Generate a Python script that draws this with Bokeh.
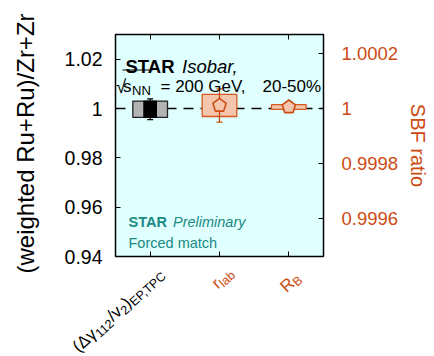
import math
from bokeh.plotting import figure
from bokeh.layouts import row, column
from bokeh.models import Range1d, LinearAxis, FixedTicker, Span, Label
from bokeh.core.properties import value
from bokeh.embed import file_html
from bokeh.resources import INLINE

# ---------------- data ----------------
cat_pos = [0.5, 1.5, 2.5]
x_tick_pieces = [
    [("(Δγ", False), ("112", True), ("/v", False), ("2", True), (")", False), ("EP,TPC", True)],
    [("r", False), ("lab", True)],
    [("R", False), ("B", True)],
]
# left axis: (Δγ112/v2) weighted ratio
dg_x = [0.5]
dg_value = [0.9997]
dg_stat = [0.0042]
dg_sys = [0.0033]
# right axis: SBF ratio (r_lab, R_B)
sbf_x = [1.5, 2.5]
sbf_value = [1.000011, 1.0000055]
sbf_stat = [6.0e-5, 1.5e-5]
sbf_sys = [4.0e-5, 8.5e-6]

left_ticks = [0.94, 0.96, 0.98, 1.0, 1.02]
left_tick_labels = ["0.94", "0.96", "0.98", "1", "1.02"]
right_ticks = [0.9996, 0.9998, 1.0, 1.0002]
right_tick_labels = ["0.9996", "0.9998", "1", "1.0002"]
y_left = (0.94, 1.03)
y_right = (0.999464, 1.000268)
y_title = "(weighted Ru+Ru)/Zr+Zr"
y2_title = "SBF ratio"

# ---------------- style / layout ----------------
FONT = "Liberation Sans"
ORANGE = "#cc4b12"
OR_FILL = "#f4c5ad"
OR_LINE = "#d65a20"
GRAY = "#b3b3b3"
TEAL = "#1b8a84"
BG = "#e0ffff"

PAGE_W, PAGE_H = 434, 356
LW = 40                      # left strip (y title)
W = PAGE_W - LW              # main + bottom strip width
H1 = 268                     # main figure height
H2 = PAGE_H - H1             # bottom strip (x labels)
FW, FH = 208, 222
F_LEFT, F_TOP = 115, 34
BL, BT = F_LEFT - LW, F_TOP
BR, BB = W - BL - FW, H1 - BT - FH
F_BOT = F_TOP + FH
PX_X = FW / 3.0
PX_YL = FH / (y_left[1] - y_left[0])
PX_YR = FH / (y_right[1] - y_right[0])


def dxp(px):
    return (px - F_LEFT) / PX_X


def dyp(py):
    return y_left[0] + (F_BOT - py) / PX_YL


p = figure(width=W, height=H1, min_border_left=BL, min_border_right=BR,
           min_border_top=BT, min_border_bottom=BB,
           x_range=Range1d(0, 3), y_range=Range1d(*y_left),
           output_backend="svg", toolbar_location=None)
p.frame_align = False
p.extra_y_ranges = {"sbf": Range1d(*y_right)}
p.background_fill_color = BG
p.border_fill_color = "white"
p.outline_line_color = "black"
p.outline_line_width = 1.5
p.xgrid.visible = False
p.ygrid.visible = False


def style_axis(ax):
    ax.axis_line_color = None
    ax.major_tick_in = 5
    ax.major_tick_out = 0
    ax.minor_tick_in = 0
    ax.minor_tick_out = 0
    ax.major_tick_line_color = "black"
    ax.major_tick_line_width = 1


xa = p.xaxis[0]
xa.ticker = FixedTicker(ticks=cat_pos)
style_axis(xa)
xa.major_label_overrides = {c: "" for c in cat_pos}
xa.major_label_text_font_size = "0px"
xa.major_label_standoff = 0

top = LinearAxis(ticker=FixedTicker(ticks=cat_pos))
style_axis(top)
top.major_label_overrides = {c: "" for c in cat_pos}
top.major_label_text_font_size = "0px"
top.major_label_standoff = 0
p.add_layout(top, "above")

ya = p.yaxis[0]
ya.ticker = FixedTicker(ticks=left_ticks)
ya.major_label_overrides = dict(zip(left_ticks, left_tick_labels))
style_axis(ya)
ya.major_label_standoff = 13
ya.major_label_text_font = FONT
ya.major_label_text_font_size = "19.5px"
ya.major_label_text_color = "black"

ra = LinearAxis(y_range_name="sbf", ticker=FixedTicker(ticks=right_ticks))
ra.major_label_overrides = dict(zip(right_ticks, right_tick_labels))
style_axis(ra)
ra.major_label_standoff = 18
ra.major_label_text_font = FONT
ra.major_label_text_font_size = "18.5px"
ra.major_label_text_color = ORANGE
ra.axis_label = y2_title
ra.axis_label_text_font = FONT
ra.axis_label_text_font_size = "20px"
ra.axis_label_text_font_style = "normal"
ra.axis_label_text_color = ORANGE
ra.axis_label_standoff = 6
p.add_layout(ra, "right")

p.add_layout(Span(location=1.0, dimension="width", line_color="black",
                  line_width=1.6, line_dash="10 7", level="underlay"))

BOX_HW = 0.25

p.quad(left=[x - BOX_HW for x in dg_x], right=[x + BOX_HW for x in dg_x],
       bottom=[v - s for v, s in zip(dg_value, dg_sys)],
       top=[v + s for v, s in zip(dg_value, dg_sys)],
       fill_color=GRAY, line_color="#222222", line_width=1.3)
p.segment(x0=dg_x, x1=dg_x, y0=[v - e for v, e in zip(dg_value, dg_stat)],
          y1=[v + e for v, e in zip(dg_value, dg_stat)], line_color="black", line_width=1.3)
p.scatter(x=dg_x + dg_x,
          y=[v - e for v, e in zip(dg_value, dg_stat)] + [v + e for v, e in zip(dg_value, dg_stat)],
          marker="dash", size=6, line_color="black", line_width=1.3)
p.rect(x=dg_x, y=dg_value, width=12.7, width_units="screen",
       height=[2 * s for s in dg_sys], fill_color="black", line_color="black")

p.quad(left=[x - BOX_HW for x in sbf_x], right=[x + BOX_HW for x in sbf_x],
       bottom=[v - s for v, s in zip(sbf_value, sbf_sys)],
       top=[v + s for v, s in zip(sbf_value, sbf_sys)],
       fill_color=OR_FILL, line_color=OR_LINE, line_width=1.3, y_range_name="sbf")
p.segment(x0=sbf_x, x1=sbf_x, y0=[v - e for v, e in zip(sbf_value, sbf_stat)],
          y1=[v + e for v, e in zip(sbf_value, sbf_stat)], line_color=ORANGE,
          line_width=1.3, y_range_name="sbf")
p.scatter(x=sbf_x + sbf_x,
          y=[v - e for v, e in zip(sbf_value, sbf_stat)] + [v + e for v, e in zip(sbf_value, sbf_stat)],
          marker="dash", size=6, line_color=ORANGE, line_width=1.3, y_range_name="sbf")

R_PENT = 7.0
pxs, pys = [], []
for x, v in zip(sbf_x, sbf_value):
    angs = [math.radians(90 + 72 * i) for i in range(5)]
    pxs.append([x + R_PENT * math.cos(a) / PX_X for a in angs])
    pys.append([v + R_PENT * math.sin(a) / PX_YR for a in angs])
p.patches(xs=pxs, ys=pys, fill_color=OR_FILL, line_color=ORANGE, line_width=1.6,
          y_range_name="sbf")


def lab(text, px, py, size, color="black", style="normal"):
    p.add_layout(Label(x=dxp(px), y=dyp(py), text=text, text_font=FONT,
                       text_font_size=f"{size}px", text_color=color,
                       text_font_style=style, text_align="left",
                       text_baseline="alphabetic"))


lab("STAR", 125, 65.5, 18.5, style="bold")
lab("Isobar,", 181.5, 65.5, 18.5, style="italic")
lab("√", 115.5, 86, 18.5)
lab("s", 122.5, 85.5, 17)
lab("NN", 131.5, 89.5, 13)
lab("= 200 GeV,", 160, 85.5, 17)
lab("20-50%", 262, 85.5, 17)
p.segment(x0=[dxp(122)], x1=[dxp(152)], y0=[dyp(69.5)], y1=[dyp(69.5)],
          line_color="black", line_width=1)

lab("STAR", 128, 221.5, 14.5, color=TEAL, style="bold")
lab("Preliminary", 172.5, 221.5, 14.5, color=TEAL, style="italic")
lab("Forced match", 128, 242.5, 14.5, color=TEAL)


def strip(width, height):
    f = figure(width=width, height=height, x_range=Range1d(0, width),
               y_range=Range1d(0, height), x_axis_type=None, y_axis_type=None,
               min_border=0, min_border_left=0, min_border_right=0,
               min_border_top=0, min_border_bottom=0,
               output_backend="svg", toolbar_location=None)
    f.frame_align = False
    f.outline_line_color = None
    f.grid.visible = False
    f.background_fill_color = "white"
    f.border_fill_color = "white"
    return f


# left strip: y title (page coords -> strip coords: x same, y = PAGE_H - y)
pl = strip(LW, PAGE_H)
pl.text(x=[25], y=[PAGE_H - 143], text=[y_title], angle=math.pi / 2,
        text_font=value(FONT), text_font_size=value("24px"), text_color="black",
        text_align="center", text_baseline="middle")

# bottom strip: rotated x tick labels with subscripts
pb = strip(W, H2)


def pb_text(t, px, py, size, color, angle):
    pb.text(x=[px - LW], y=[PAGE_H - py], text=[t], angle=angle,
            angle_units="rad", text_font=value(FONT),
            text_font_size=value(f"{size}px"),
            text_color=color, text_align="left", text_baseline="alphabetic")


CW = {"(": .333, ")": .333, "Δ": .668, "γ": .5, "1": .556, "2": .556, "/": .278,
      "v": .5, "E": .667, "P": .667, ",": .278, "T": .611, "C": .722, "r": .333,
      "l": .222, "a": .556, "b": .556, "R": .722, "B": .667}
MAIN, SUB, SHIFT = 17, 12.5, 4.2
TH = math.radians(42)
ux, uy = math.cos(TH), -math.sin(TH)
dnx, dny = math.sin(TH), math.cos(TH)
x_label_colors = ["black", ORANGE, ORANGE]
end_off = [(15, 273), (14, 273), (12, 278)]
for i, pieces in enumerate(x_tick_pieces):
    tick_px = F_LEFT + cat_pos[i] * PX_X
    ex, ey = tick_px + end_off[i][0], end_off[i][1]
    if pieces[-1][1]:
        ex, ey = ex - SHIFT * dnx, ey - SHIFT * dny
    widths = [sum(CW.get(c, .556) for c in t) * (SUB if s else MAIN) for t, s in pieces]
    L = sum(widths)
    sx, sy = ex - L * ux, ey - L * uy
    for (t, s), w in zip(pieces, widths):
        ax_, ay_ = sx, sy
        if s:
            ax_, ay_ = ax_ + SHIFT * dnx, ay_ + SHIFT * dny
        pb_text(t, ax_, ay_, SUB if s else MAIN, x_label_colors[i], TH)
        sx, sy = sx + w * ux, sy + w * uy

layout = row(pl, column(p, pb))
open("out.html", "w").write(file_html(layout, INLINE))
